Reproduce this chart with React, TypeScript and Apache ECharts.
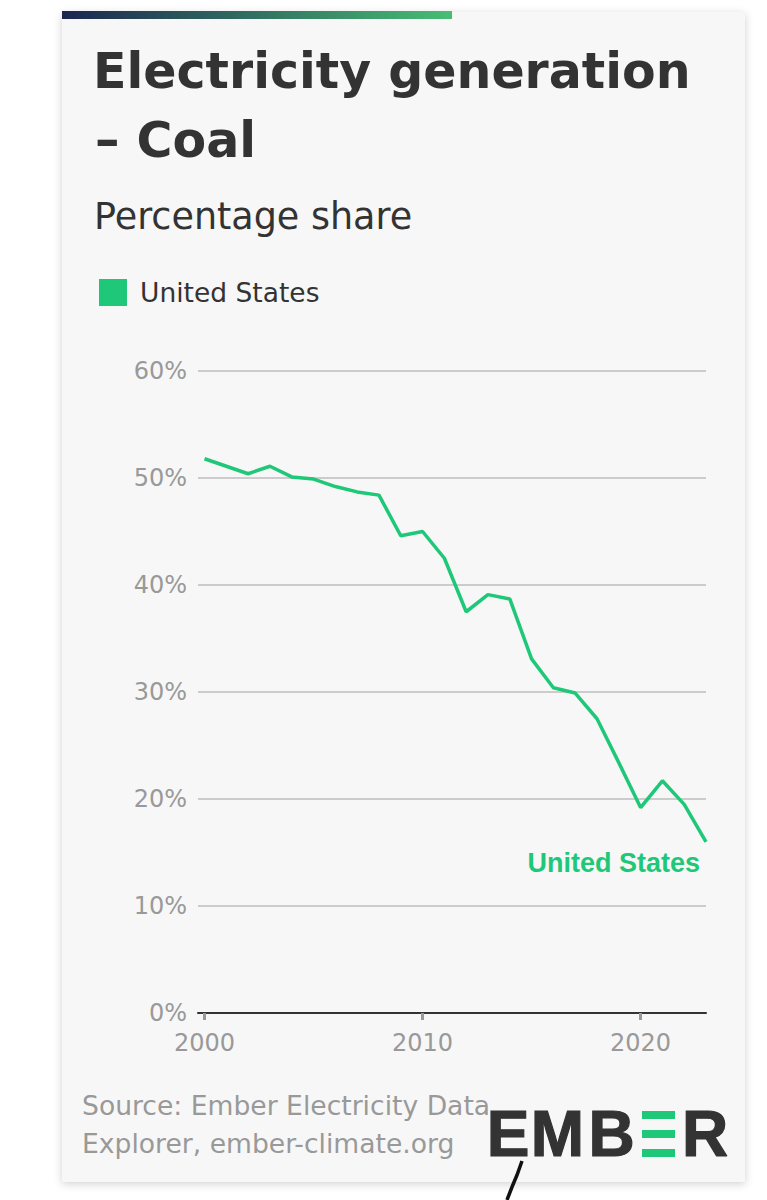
import React, { useEffect, useRef } from "react";
import * as echarts from "echarts";

const years = [2000, 2001, 2002, 2003, 2004, 2005, 2006, 2007, 2008, 2009, 2010, 2011, 2012, 2013, 2014, 2015, 2016, 2017, 2018, 2019, 2020, 2021, 2022, 2023];
const coalShare = [51.8, 51.1, 50.4, 51.1, 50.1, 49.9, 49.2, 48.7, 48.4, 44.6, 45.0, 42.5, 37.5, 39.1, 38.7, 33.1, 30.4, 29.9, 27.5, 23.4, 19.2, 21.7, 19.5, 16.0];
const xTickYears = [2000, 2010, 2020];
const seriesName = "United States";

const GREEN = "#1fc878";
const FONT = "DejaVu Sans";
const LOGO_FONT = "Liberation Sans";

export default function App() {
  const ref = useRef<HTMLDivElement>(null);
  useEffect(() => {
    if (!ref.current) return;
    const chart = echarts.init(ref.current, null, { renderer: "svg" });
    const data = years.map((y, i) => [y, coalShare[i]]);
    const logoLetter = (ch: string, cx: number) => ({
      type: "text",
      style: {
        text: ch,
        x: cx,
        y: 1134,
        align: "center",
        verticalAlign: "middle",
        fontSize: 64,
        fontWeight: 900,
        fill: "#333333",
        stroke: "#333333",
        lineWidth: 1.2,
        fontFamily: LOGO_FONT,
      },
    });
    chart.setOption({
      animation: false,
      backgroundColor: "#ffffff",
      textStyle: { fontFamily: FONT },
      grid: { left: 198, right: 61, top: 371, bottom: 187 },
      legend: {
        left: 99,
        top: 279,
        padding: 0,
        icon: "rect",
        itemWidth: 28,
        itemHeight: 27,
        textStyle: { fontSize: 26.5, color: "#333333", fontFamily: FONT, padding: [0, 0, 0, 8] },
        data: [seriesName],
      },
      xAxis: {
        type: "value",
        min: 1999.7,
        max: 2023,
        splitLine: { show: false },
        axisLine: { show: true, lineStyle: { color: "#333333", width: 2 } },
        axisTick: { show: true, customValues: xTickYears, length: 7, lineStyle: { color: "#999999", width: 3 } },
        axisLabel: {
          customValues: xTickYears,
          formatter: (v: number) => String(v),
          color: "#999999",
          fontSize: 24,
          margin: 18,
          fontFamily: FONT,
        },
      },
      yAxis: {
        type: "value",
        min: 0,
        max: 60,
        interval: 10,
        axisLine: { show: false },
        axisTick: { show: false },
        axisLabel: { formatter: "{value}%", color: "#999999", fontSize: 24, margin: 11, fontFamily: FONT },
        splitLine: { lineStyle: { color: "#cccccc", width: 2 } },
      },
      series: [
        {
          name: seriesName,
          type: "line",
          data,
          showSymbol: false,
          symbol: "none",
          color: GREEN,
          lineStyle: { color: GREEN, width: 3.5 },
          z: 5,
        },
      ],
      graphic: [
        {
          type: "rect",
          z: -10,
          shape: { x: 62, y: 12, width: 683, height: 1170 },
          style: { fill: "#f7f7f7", shadowBlur: 8, shadowColor: "rgba(0,0,0,0.18)", shadowOffsetY: 2 },
          silent: true,
        },
        {
          type: "rect",
          z: -9,
          shape: { x: 62, y: 11, width: 390, height: 8 },
          style: {
            fill: new echarts.graphic.LinearGradient(0, 0, 1, 0, [
              { offset: 0, color: "#1c2650" },
              { offset: 1, color: "#48bd74" },
            ]),
          },
          silent: true,
        },
        {
          type: "text",
          style: { text: "Electricity generation", x: 93, y: 71, verticalAlign: "middle", fontSize: 49, fontWeight: "bold", fill: "#333333", fontFamily: FONT },
        },
        {
          type: "text",
          style: { text: "– Coal", x: 95, y: 140, verticalAlign: "middle", fontSize: 49, fontWeight: "bold", fill: "#333333", fontFamily: FONT },
        },
        {
          type: "text",
          style: { text: "Percentage share", x: 94, y: 216, verticalAlign: "middle", fontSize: 36.5, fill: "#333333", fontFamily: FONT },
        },
        {
          type: "text",
          style: { text: seriesName, x: 700, y: 863, align: "right", verticalAlign: "middle", fontSize: 27, fontWeight: "bold", fill: GREEN, fontFamily: LOGO_FONT },
        },
        {
          type: "text",
          style: { text: "Source: Ember Electricity Data", x: 82, y: 1105, verticalAlign: "middle", fontSize: 26.6, fill: "#999999", fontFamily: FONT },
        },
        {
          type: "text",
          style: { text: "Explorer, ember-climate.org", x: 82, y: 1143, verticalAlign: "middle", fontSize: 26.6, fill: "#999999", fontFamily: FONT },
        },
        logoLetter("E", 508),
        logoLetter("M", 557.5),
        logoLetter("B", 611.5),
        { type: "rect", shape: { x: 642, y: 1111, width: 33, height: 8 }, style: { fill: GREEN } },
        { type: "rect", shape: { x: 642, y: 1130, width: 33, height: 8 }, style: { fill: GREEN } },
        { type: "rect", shape: { x: 642, y: 1149, width: 33, height: 8 }, style: { fill: GREEN } },
        logoLetter("R", 705),
        {
          type: "polyline",
          shape: { points: [[522, 1161], [517, 1175], [512, 1187], [507, 1200]] },
          style: { stroke: "#111111", lineWidth: 3.5, fill: "none" },
        },
      ],
    });
    return () => chart.dispose();
  }, []);
  return <div ref={ref} style={{ position: "absolute", left: 0, top: 0, width: 767, height: 1200 }} />;
}
